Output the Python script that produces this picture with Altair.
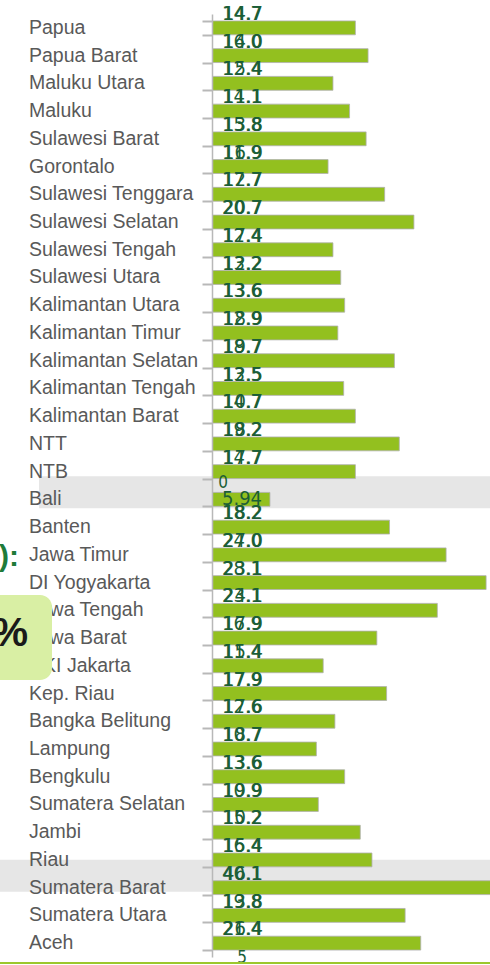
import altair as alt
import pandas as pd

provinces = ["Papua", "Papua Barat", "Maluku Utara", "Maluku", "Sulawesi Barat", "Gorontalo",
             "Sulawesi Tenggara", "Sulawesi Selatan", "Sulawesi Tengah", "Sulawesi Utara",
             "Kalimantan Utara", "Kalimantan Timur", "Kalimantan Selatan", "Kalimantan Tengah",
             "Kalimantan Barat", "NTT", "NTB", "Bali", "Banten", "Jawa Timur", "DI Yogyakarta",
             "Jawa Tengah", "Jawa Barat", "DKI Jakarta", "Kep. Riau", "Bangka Belitung", "Lampung",
             "Bengkulu", "Sumatera Selatan", "Jambi", "Riau", "Sumatera Barat", "Sumatera Utara", "Aceh"]

values = [14.7, 16.0, 12.4, 14.1, 15.8, 11.9, 17.7, 20.7, 12.4, 13.2, 13.6, 12.9, 18.7, 13.5,
          14.7, 19.2, 14.7, 5.94, 18.2, 24.0, 28.1, 23.1, 16.9, 11.4, 17.9, 12.6, 10.7, 13.6,
          10.9, 15.2, 16.4, 40.1, 19.8, 21.4]

labels_top_a = ["14.7", "16.0", "12.4", "14.1", "15.8", "11.9", "17.7", "20.7", "12.4", "13.2",
                "13.6", "12.9", "18.7", "13.5", "14.7", "19.2", "14.7", "", "18.2", "24.0", "28.1",
                "23.1", "16.9", "11.4", "17.9", "12.6", "10.7", "13.6", "10.9", "15.2", "16.4",
                "40.1", "19.8", "21.4"]

labels_top_b = ["14.7", "14.0", "15.4", "11.1", "13.8", "16.9", "12.7", "20.7", "17.4", "12.2",
                "13.6", "18.9", "19.7", "12.5", "10.7", "18.2", "17.7", "", "18.2", "27.0", "23.1",
                "24.1", "17.9", "15.4", "17.9", "17.6", "18.7", "13.6", "19.9", "10.2", "15.4",
                "46.1", "13.8", "26.4"]

labels_mid = ["" for _ in provinces]
labels_mid[provinces.index("Bali")] = "5.94"

extra_top_label = "0"      # above Bali
extra_bottom_label = "5"   # below Aceh

df = pd.DataFrame({
    "prov": provinces,
    "value": values,
    "la": labels_top_a,
    "lb": labels_top_b,
    "lm": labels_mid,
})

W = 278
H = 943
STEP = H / len(provinces)

yscale = alt.Scale(domain=provinces, paddingInner=0.5, paddingOuter=0.25)
yaxis = alt.Axis(labels=False, title=None, ticks=True, tickBand="extent", tickSize=10,
                 tickWidth=2, tickColor="#b8b8b8", domainColor="#b8b8b8", domainWidth=1.5,
                 zindex=1, grid=False)
Y = alt.Y("prov:N", scale=yscale, axis=yaxis, sort=provinces)

base = alt.Chart(df)

hl_bali = base.transform_filter(alt.datum.prov == "Bali").mark_bar(
    orient="horizontal", color="#e6e6e6", height=32, yOffset=-7
).encode(y=Y, x=alt.value(-173), x2=alt.value(W + 5))

hl_sb = base.transform_filter(alt.datum.prov == "Sumatera Barat").mark_bar(
    orient="horizontal", color="#e6e6e6", height=32, yOffset=-12
).encode(y=Y, x=alt.value(-215), x2=alt.value(W + 5))

cat_text = base.mark_text(
    align="left", baseline="middle", font="Liberation Sans", fontSize=19.5, color="#595959"
).encode(y=Y, x=alt.value(-183), text="prov:N")

bars = base.mark_bar(
    color="#93c01f", stroke="#b0b0b0", strokeWidth=0.8, clip=True
).encode(
    y=Y,
    x=alt.X("value:Q", scale=alt.Scale(domain=[0, 28.5], nice=False, zero=True), axis=None),
)

numfont = "DejaVu Sans Condensed, sans-serif"
NUMC = "#1b5e36"
txt_a = base.mark_text(
    align="left", baseline="middle", font=numfont, fontSize=20, color=NUMC, dy=-STEP / 2
).encode(y=Y, x=alt.value(10), text="la:N")
txt_b = base.mark_text(
    align="left", baseline="middle", font=numfont, fontSize=20, color=NUMC, dy=-STEP / 2, dx=1
).encode(y=Y, x=alt.value(10), text="lb:N")
txt_m = base.mark_text(
    align="left", baseline="middle", font=numfont, fontSize=20, color=NUMC
).encode(y=Y, x=alt.value(10), text="lm:N")

extra_df = pd.DataFrame({"prov": ["Bali", "Aceh"], "t": [extra_top_label, extra_bottom_label]})
extra_top = alt.Chart(extra_df).transform_filter(alt.datum.prov == "Bali").mark_text(
    align="center", baseline="middle", font=numfont, fontSize=17, color=NUMC, dy=-STEP / 2 - 3
).encode(y=Y, x=alt.value(11), text="t:N")
extra_bot = alt.Chart(extra_df).transform_filter(alt.datum.prov == "Aceh").mark_text(
    align="center", baseline="middle", font=numfont, fontSize=17, color=NUMC, dy=STEP / 2 + 1
).encode(y=Y, x=alt.value(30), text="t:N")

# decorative cropped slide elements on the left
paren = alt.Chart(pd.DataFrame({"t": ["):"]})).mark_text(
    align="right", baseline="alphabetic", font="Liberation Sans", fontWeight="bold",
    fontSize=30, color="#1e7b3a"
).encode(x=alt.value(19 - 212), y=alt.value(566 - 14), text="t:N")

box = alt.Chart(pd.DataFrame({"a": [1]})).mark_rect(
    color="#d9efa4", cornerRadius=12
).encode(x=alt.value(-240), x2=alt.value(52 - 212), y=alt.value(595 - 14), y2=alt.value(680 - 14))

pct = alt.Chart(pd.DataFrame({"t": ["%"]})).mark_text(
    align="right", baseline="alphabetic", font="Liberation Sans", fontWeight="bold",
    fontSize=40, color="#1a1a1a"
).encode(x=alt.value(28 - 212), y=alt.value(646 - 14), text="t:N")

green_line = alt.Chart(pd.DataFrame({"a": [1]})).mark_rule(
    color="#9cc82c", strokeWidth=2
).encode(x=alt.value(-215), x2=alt.value(W + 5), y=alt.value(963 - 14))

chart = alt.layer(
    hl_bali, hl_sb, cat_text, bars, box, paren, pct, txt_a, txt_b, txt_m, extra_top, extra_bot, green_line
).properties(
    width=W, height=H,
    autosize=alt.AutoSizeParams(type="none"),
    padding={"left": 212, "top": 14, "right": 0, "bottom": 8},
    background="white",
).configure_view(stroke=None)

chart.save("out.html", embed_options={"renderer": "svg", "actions": False})
